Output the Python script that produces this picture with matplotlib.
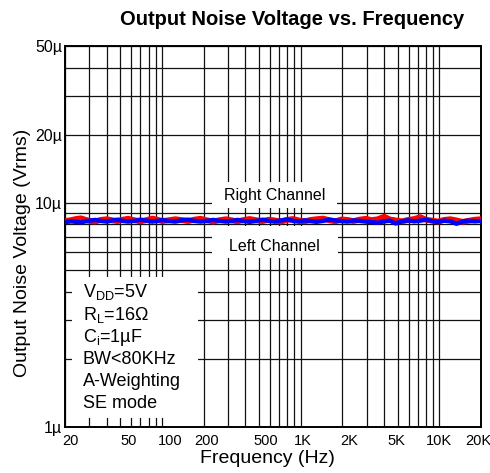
import matplotlib
matplotlib.use('Agg')
import matplotlib.pyplot as plt
from matplotlib.patches import Rectangle
from matplotlib.transforms import ScaledTranslation

plt.rcParams['font.family'] = ['Liberation Sans', 'DejaVu Sans']
plt.rcParams['mathtext.fontset'] = 'custom'
plt.rcParams['mathtext.rm'] = 'Liberation Sans'
plt.rcParams['mathtext.it'] = 'Liberation Sans:italic'

# frequency points (Hz)
freq = [20, 22, 24, 26, 28, 30, 33, 36, 40, 44, 48, 52, 57, 63, 70, 77, 85, 94,
        100, 110, 125, 140, 155, 170, 190, 210, 235, 260, 290, 320, 350, 390,
        430, 480, 530, 590, 650, 720, 800, 880, 970, 1070, 1180, 1300, 1450,
        1600, 1780, 1970, 2180, 2400, 2650, 2950, 3250, 3600, 4000, 4400, 4850,
        5400, 5950, 6600, 7300, 8000, 8900, 9800, 10800, 12000, 13300, 14700,
        16200, 18000, 20000]
# noise in uVrms
right_ch = [8.28, 8.36, 8.46, 8.52, 8.40, 8.30, 8.24, 8.38, 8.44, 8.34, 8.28,
            8.40, 8.48, 8.36, 8.26, 8.36, 8.50, 8.38, 8.28, 8.34, 8.44, 8.36,
            8.28, 8.40, 8.48, 8.35, 8.24, 8.36, 8.44, 8.34, 8.26, 8.38, 8.46,
            8.35, 8.28, 8.40, 8.34, 8.24, 8.38, 8.46, 8.34, 8.26, 8.38, 8.44,
            8.50, 8.36, 8.26, 8.42, 8.38, 8.28, 8.40, 8.48, 8.36, 8.44, 8.66,
            8.42, 8.34, 8.26, 8.38, 8.46, 8.62, 8.40, 8.32, 8.24, 8.38, 8.44,
            8.34, 8.22, 8.30, 8.40, 8.44]
left_ch = [8.20, 8.26, 8.22, 8.16, 8.26, 8.32, 8.38, 8.30, 8.24, 8.34, 8.40,
           8.30, 8.24, 8.30, 8.40, 8.32, 8.24, 8.30, 8.38, 8.30, 8.24, 8.36,
           8.40, 8.30, 8.24, 8.30, 8.38, 8.30, 8.24, 8.30, 8.38, 8.28, 8.22,
           8.30, 8.40, 8.30, 8.24, 8.34, 8.42, 8.30, 8.24, 8.34, 8.28, 8.22,
           8.30, 8.40, 8.34, 8.28, 8.24, 8.34, 8.30, 8.24, 8.20, 8.14, 8.26,
           8.32, 8.08, 8.28, 8.34, 8.26, 8.32, 8.40, 8.28, 8.22, 8.32, 8.26,
           8.06, 8.24, 8.32, 8.26, 8.30]

x_ticks = [20, 50, 100, 200, 500, 1000, 2000, 5000, 10000, 20000]
x_labels = ['20', '50', '100', '200', '500', '1K', '2K', '5K', '10K', '20K']
y_ticks = [1e-6, 10e-6, 20e-6, 50e-6]
y_labels = ['1\u00b5', '10\u00b5', '20\u00b5', '50\u00b5']

fig = plt.figure(figsize=(4.9, 4.73), dpi=100)
ax = fig.add_axes([0.1327, 0.0973, 0.8490, 0.8055])
ax.set_xscale('log')
ax.set_yscale('log')
ax.set_xlim(20, 20000)
ax.set_ylim(1e-6, 50e-6)

ax.set_axisbelow(True)
ax.grid(True, which='both', color='#111111', lw=0.9)
ax.set_xticks(x_ticks)
ax.set_xticklabels(x_labels)
ax.set_yticks(y_ticks)
ax.set_yticklabels(y_labels)
ax.tick_params(which='both', length=0)
ax.tick_params(axis='x', labelsize=10.5, pad=5)
ax.tick_params(axis='y', labelsize=11.5, pad=2)
for s in ax.spines.values():
    s.set_linewidth(1.4)

# the reference's x labels sit a little off their grid lines
x_shift = [5, 8, 8, 3, 7, 2, 7, -1, 0, -3]
for lab, dx in zip(ax.get_xticklabels(), x_shift):
    lab.set_transform(lab.get_transform() + ScaledTranslation(dx / 100, 0, fig.dpi_scale_trans))

# white label boxes that hide the grid
for (x0, y0, w, h) in [(0.353, 0.575, 0.301, 0.068),
                       (0.353, 0.4436, 0.303, 0.084),
                       (0.0168, 0.0236, 0.303, 0.370)]:
    ax.add_patch(Rectangle((x0, y0), w, h, transform=ax.transAxes,
                           facecolor='white', edgecolor='none', zorder=1))

ax.plot(freq, [v * 1e-6 for v in right_ch], color='#ff0000', lw=4.2, zorder=3)
ax.plot(freq, [v * 1e-6 for v in left_ch], color='#0000ff', lw=3.2, zorder=4)

ax.text(0.504, 0.608, 'Right Channel', transform=ax.transAxes, fontsize=11.5,
        ha='center', va='center', zorder=5)
ax.text(0.504, 0.475, 'Left Channel', transform=ax.transAxes, fontsize=11.5,
        ha='center', va='center', zorder=5)

cond = [r'V$_{\rm DD}$=5V', r'R$_{\rm L}$=16' + '\u03a9', r'C$_{\rm i}$=1' + '\u00b5F',
        'BW<80KHz', 'A-Weighting', 'SE mode']
for i, t in enumerate(cond):
    ax.text(0.043, 0.353 - i * 0.0585, t, transform=ax.transAxes, fontsize=13,
            ha='left', va='center', zorder=5)

ax.set_xlabel('Frequency (Hz)', fontsize=14)
ax.set_ylabel('Output Noise Voltage (Vrms)', fontsize=14)
ax.xaxis.set_label_coords(0.486, -0.06)
ax.yaxis.set_label_coords(-0.082, 0.457)
fig.suptitle('Output Noise Voltage vs. Frequency', x=0.596, y=0.978,
             fontsize=14.5, fontweight='bold')

fig.savefig('out.png', dpi=100)
